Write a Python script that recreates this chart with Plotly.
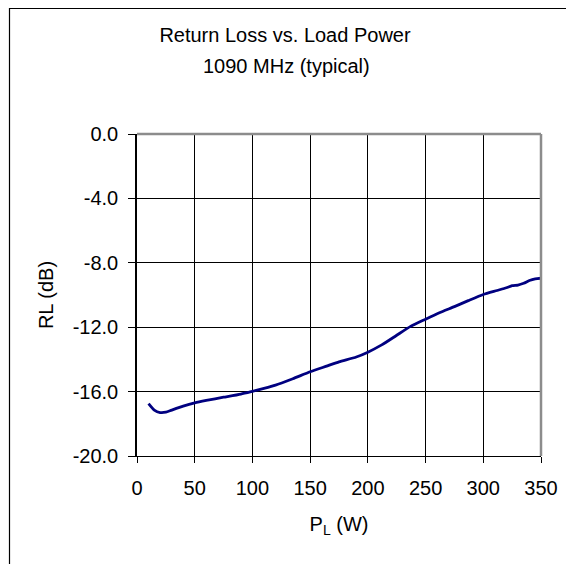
import plotly.graph_objects as go

# Data
load_power_w = [10, 15, 20, 25, 30, 40, 50, 60, 75, 90, 100, 110, 120, 135, 150,
                165, 175, 190, 200, 212, 225, 237, 250, 262, 275, 287, 300, 312,
                320, 325, 330, 335, 340, 345, 350]
return_loss_db = [-16.75, -17.15, -17.3, -17.28, -17.15, -16.9, -16.7, -16.55, -16.35,
                  -16.15, -15.98, -15.8, -15.6, -15.2, -14.77, -14.4, -14.15, -13.85,
                  -13.55, -13.1, -12.5, -11.95, -11.5, -11.1, -10.72, -10.35, -9.97,
                  -9.72, -9.55, -9.42, -9.38, -9.27, -9.1, -9.0, -8.96]

y_tick_values = [0, -4, -8, -12, -16, -20]
y_tick_labels = ["0.0", "-4.0", "-8.0", "-12.0", "-16.0", "-20.0"]
x_tick_values = [0, 50, 100, 150, 200, 250, 300, 350]
x_tick_labels = ["0", "50", "100", "150", "200", "250", "300", "350"]

# page has an 8px body margin, so figure coords = screen coords - 8
OFF = 8
W, H = 574 - OFF, 564 - OFF
L, R, T, B = 137 - OFF, 541 - OFF, 134 - OFF, 456 - OFF  # plot area in figure pixels

def px_to_paper_x(px):
    return (px - L) / (R - L)

def px_to_paper_y(py):
    return (B - py) / (B - T)

FONT = "Liberation Sans, Arial, sans-serif"
FS = 20

fig = go.Figure()
fig.add_trace(go.Scatter(
    x=load_power_w, y=return_loss_db, mode="lines",
    line=dict(color="#000080", width=2.8, shape="spline", smoothing=0.6),
    hoverinfo="x+y", showlegend=False,
))

fig.update_layout(
    width=W, height=H, autosize=False,
    margin=dict(l=L, r=W - R, t=T, b=H - B, pad=0),
    paper_bgcolor="white", plot_bgcolor="white",
    font=dict(family=FONT, size=FS, color="black"),
    title=dict(
        text="Return Loss vs. Load Power",
        x=(285 - OFF) / W, xanchor="center", y=1 - (35 - OFF) / H, yanchor="middle",
        font=dict(family=FONT, size=FS, color="black"),
    ),
    annotations=[
        dict(text="1090 MHz (typical)", xref="paper", yref="paper",
             x=px_to_paper_x(286 - OFF), y=px_to_paper_y(66 - OFF),
             xanchor="center", yanchor="middle", showarrow=False,
             font=dict(family=FONT, size=FS, color="black")),
    ],
    xaxis=dict(
        range=[0, 350], tickvals=x_tick_values, ticktext=x_tick_labels,
        showgrid=True, gridcolor="black", gridwidth=1,
        showline=True, linecolor="black", linewidth=1,
        ticks="outside", ticklen=6, tickcolor="black", tickwidth=1,
        zeroline=False, ticklabelstandoff=8,
        title=dict(text="P<sub>L</sub> (W)", standoff=18,
                   font=dict(family=FONT, size=FS)),
        tickfont=dict(family=FONT, size=FS),
    ),
    yaxis=dict(
        range=[-20, 0], tickvals=y_tick_values, ticktext=y_tick_labels,
        showgrid=True, gridcolor="black", gridwidth=1,
        showline=True, linecolor="black", linewidth=1.5,
        ticks="outside", ticklen=7, tickcolor="black", tickwidth=1,
        zeroline=False, ticklabelstandoff=6,
        title=dict(text="RL (dB)", standoff=14,
                   font=dict(family=FONT, size=FS)),
        tickfont=dict(family=FONT, size=FS),
    ),
    shapes=[
        # outer chart frame
        dict(type="rect", xref="paper", yref="paper",
             x0=px_to_paper_x(9 - OFF + 0.5), x1=px_to_paper_x(600),
             y0=px_to_paper_y(600), y1=px_to_paper_y(8 - OFF + 0.5),
             line=dict(color="black", width=1.2), layer="below"),
        # gray top and right plot border
        dict(type="line", xref="paper", yref="paper", x0=0, x1=1, y0=1, y1=1,
             line=dict(color="#8c8c8c", width=2.5), layer="above"),
        dict(type="line", xref="paper", yref="paper", x0=1, x1=1, y0=0, y1=1,
             line=dict(color="#8c8c8c", width=2.5), layer="above"),
    ],
)

fig.write_html("out.html")
